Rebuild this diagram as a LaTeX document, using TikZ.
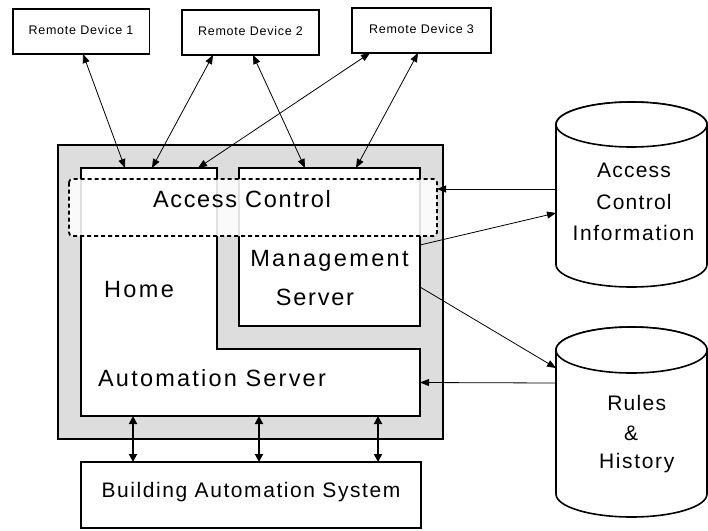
\documentclass[tikz,border=0pt]{standalone}
\usepackage{fontspec}
\setmainfont{Liberation Sans}
\usetikzlibrary{arrows.meta,calc}
\tikzset{
  box/.style={draw, line width=1.6pt, fill=white, inner sep=0pt, outer sep=0pt},
  ghost/.style={inner sep=0pt, outer sep=0pt},
  lbl/.style={anchor=base, inner sep=0pt, outer sep=0pt},
  bigtext/.style={font=\fontsize{23.5pt}{28pt}\selectfont\addfontfeatures{LetterSpace=#1}},
  midtext/.style={font=\fontsize{21pt}{25pt}\selectfont\addfontfeatures{LetterSpace=#1}},
  smalltext/.style={font=\fontsize{12.5pt}{15pt}\selectfont\addfontfeatures{LetterSpace=6}},
  cyl/.style={draw, line width=1.6pt, fill=white},
  dashline/.style={draw=black, dash pattern=on 4pt off 3pt, line width=1.8pt, rounded corners=3.5pt},
  dbl/.style={line width=0.8pt, {Triangle[length=9pt,width=7pt]}-{Triangle[length=9pt,width=7pt]}},
  sgl/.style={line width=0.8pt, -{Triangle[length=9pt,width=7pt]}},
  thk/.style={line width=1.8pt, {Triangle[length=8pt,width=8pt]}-{Triangle[length=8pt,width=8pt]}},
}
\begin{document}
\begin{tikzpicture}[x=1pt,y=-1pt]
\useasboundingbox[fill=white] (0,0) rectangle (708,530);

% outer gray container
\node[draw, line width=1.6pt, fill=gray!27, minimum width=385pt, minimum height=294pt, inner sep=0pt] (outer) at (250.5,292) {};

% home automation server (L shape)
\node[ghost, minimum width=136pt, minimum height=248pt] (homebox) at (149,292) {};
\node[ghost, minimum width=339pt, minimum height=67pt] (autobox) at (250.5,382.5) {};
\draw[line width=1.6pt, fill=white] (homebox.north west) -- (homebox.north east) -- (homebox.east |- autobox.north) -- (autobox.north east) -- (autobox.south east) -- (autobox.south west) -- cycle;

% management server
\node[box, minimum width=181pt, minimum height=158pt] (mgmt) at (329.5,247) {};

% access control (dashed, translucent)
\node[fill=white, fill opacity=0.88, rounded corners=3.5pt, minimum width=368pt, minimum height=57pt, inner sep=0pt, outer sep=0pt] (ac) at (253,207.5) {};
\draw[dashline] (ac.north west) rectangle (ac.south east);

% texts inside
\node[lbl, bigtext=7] (tac) at (242,207) {Access Control};
\node[lbl, bigtext=10] (thome) at (139,297.5) {Home};
\node[lbl, bigtext=10] (tmgmt) at (329.5,266) {Management};
\node[lbl, bigtext=7.5] (tserver) at (315,305) {Server};
\node[lbl, bigtext=9.4] (tauto) at (212,386) {Automation Server};

% remote devices
\node[box, smalltext, minimum width=136.6pt, minimum height=45pt, text height=9pt, text depth=4pt] (rd1) at (81,31.5) {Remote Device 1};
\node[box, smalltext, minimum width=137pt, minimum height=45pt, text height=9pt, text depth=4pt] (rd2) at (250.5,32.5) {Remote Device 2};
\node[box, smalltext, minimum width=139pt, minimum height=45pt, text height=9pt, text depth=4pt] (rd3) at (421.5,30.5) {Remote Device 3};

% building automation system
\node[box, minimum width=340pt, minimum height=66pt] (bas) at (251,495) {};
\node[lbl, midtext=7.5] (tbas) at (251,497.7) {Building Automation System};

% cylinders
\node[ghost, minimum width=151pt, minimum height=185pt] (aci) at (631.5,194.5) {};
\draw[cyl] ([yshift=-22.5pt]aci.north west) -- ([yshift=22.5pt]aci.south west)
  arc[start angle=180,end angle=360,x radius=75.5pt,y radius=22.5pt]
  -- ([yshift=-22.5pt]aci.north east)
  arc[start angle=0,end angle=180,x radius=75.5pt,y radius=22.5pt] -- cycle;
\draw[cyl] ([yshift=-22.5pt]aci.north) ellipse[x radius=75.5pt, y radius=22.5pt];
\node[lbl, midtext=6] (taci1) at (634,177.3) {Access};
\node[lbl, midtext=6] (taci2) at (634,209) {Control};
\node[lbl, midtext=8] (taci3) at (633.5,240.7) {Information};

\node[ghost, minimum width=151pt, minimum height=190pt] (rules) at (631.5,422) {};
\draw[cyl] ([yshift=-23pt]rules.north west) -- ([yshift=23pt]rules.south west)
  arc[start angle=180,end angle=360,x radius=75.5pt,y radius=23pt]
  -- ([yshift=-23pt]rules.north east)
  arc[start angle=0,end angle=180,x radius=75.5pt,y radius=23pt] -- cycle;
\draw[cyl] ([yshift=-23pt]rules.north) ellipse[x radius=75.5pt, y radius=23pt];
\node[lbl, midtext=6] (tr1) at (636.7,410) {Rules};
\node[lbl, midtext=6] (tr2) at (631,440) {\&};
\node[lbl, midtext=8] (tr3) at (636.7,468.3) {History};

% remote device connectors
\draw[dbl] ([xshift=2pt]rd1.south) -- ([xshift=-24pt]homebox.north);
\draw[dbl] ([xshift=-37.5pt]rd2.south) -- ([xshift=3pt]homebox.north);
\draw[dbl] ([xshift=-51.5pt]rd3.south) -- ([xshift=49pt]homebox.north);
\draw[dbl] ([xshift=2.5pt]rd2.south) -- ([xshift=-24.5pt]mgmt.north);
\draw[dbl] ([xshift=-3.5pt]rd3.south) -- ([xshift=26.5pt]mgmt.north);

% database connectors
\draw[sgl] ([yshift=5.5pt]aci.west) -- ([yshift=18.5pt]ac.east);
\draw[sgl] ([yshift=2pt]mgmt.east) -- ([yshift=-18.5pt]aci.west);
\draw[sgl] ([yshift=-40pt]mgmt.east) -- ([yshift=54pt]rules.west);
\draw[sgl] ([yshift=39pt]rules.west) -- (autobox.east);

% building automation connectors
\draw[thk] ([xshift=-117.5pt]autobox.south) -- ([xshift=-118pt]bas.north);
\draw[thk] ([xshift=8.5pt]autobox.south) -- ([xshift=8pt]bas.north);
\draw[thk] ([xshift=127.5pt]autobox.south) -- ([xshift=127pt]bas.north);
\end{tikzpicture}
\end{document}
